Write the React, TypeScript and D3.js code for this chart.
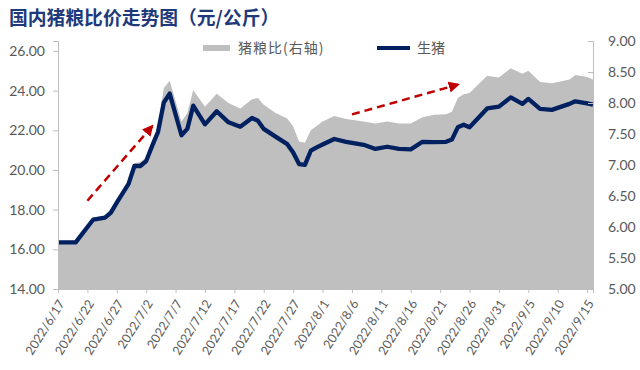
import { useEffect, useRef } from "react";
import * as d3 from "d3";

// 日期（只取图上能读出的拐点）
const dates = [
  "2022/6/17", "2022/6/20", "2022/6/23", "2022/6/25", "2022/6/26", "2022/6/27", "2022/6/29", "2022/6/30",
  "2022/7/1", "2022/7/2", "2022/7/3", "2022/7/4", "2022/7/5", "2022/7/6", "2022/7/8", "2022/7/9",
  "2022/7/10", "2022/7/12", "2022/7/14", "2022/7/16", "2022/7/18", "2022/7/20", "2022/7/21", "2022/7/22",
  "2022/7/24", "2022/7/26", "2022/7/27", "2022/7/28", "2022/7/29", "2022/7/30", "2022/7/31", "2022/8/1",
  "2022/8/3", "2022/8/5", "2022/8/8", "2022/8/10", "2022/8/12", "2022/8/14", "2022/8/16", "2022/8/18",
  "2022/8/20", "2022/8/22", "2022/8/23", "2022/8/24", "2022/8/25", "2022/8/26", "2022/8/29", "2022/8/31",
  "2022/9/2", "2022/9/4", "2022/9/5", "2022/9/7", "2022/9/9", "2022/9/12", "2022/9/13", "2022/9/15",
  "2022/9/16",
];

// 生猪 元/公斤（左轴）
const hogPrice = [
  16.35, 16.35, 17.5, 17.6, 17.85, 18.35, 19.3, 20.2,
  20.2, 20.45, 21.2, 21.9, 23.4, 23.85, 21.75, 22.07,
  23.24, 22.3, 22.96, 22.4, 22.18, 22.62, 22.48, 22.07,
  21.68, 21.3, 20.88, 20.3, 20.26, 20.97, 21.14, 21.28,
  21.56, 21.42, 21.27, 21.06, 21.17, 21.06, 21.04, 21.42,
  21.4, 21.42, 21.53, 22.15, 22.28, 22.15, 23.1, 23.19,
  23.66, 23.33, 23.58, 23.08, 23.03, 23.33, 23.46, 23.36,
  23.29,
];

// 猪粮比（右轴）
const hogGrainRatio = [
  5.78, 5.78, 6.15, 6.18, 6.3, 6.45, 6.74, 7.03,
  7.05, 7.12, 7.4, 7.62, 8.24, 8.36, 7.7, 7.84,
  8.21, 7.94, 8.15, 8.0, 7.91, 8.06, 8.08, 7.97,
  7.84, 7.75, 7.62, 7.38, 7.36, 7.56, 7.63, 7.7,
  7.79, 7.74, 7.7, 7.67, 7.7, 7.67, 7.67, 7.77,
  7.81, 7.82, 7.86, 8.08, 8.14, 8.16, 8.44, 8.41,
  8.56, 8.47, 8.52, 8.34, 8.32, 8.38, 8.45, 8.42,
  8.38,
];

const xTickLabels = [
  "2022/6/17", "2022/6/22", "2022/6/27", "2022/7/2", "2022/7/7", "2022/7/12", "2022/7/17",
  "2022/7/22", "2022/7/27", "2022/8/1", "2022/8/6", "2022/8/11", "2022/8/16", "2022/8/21",
  "2022/8/26", "2022/8/31", "2022/9/5", "2022/9/10", "2022/9/15",
];
const leftTicks = [14, 16, 18, 20, 22, 24, 26];
const rightTicks = [5, 5.5, 6, 6.5, 7, 7.5, 8, 8.5, 9];

// 红色虚线箭头：[起点日期, 起点值, 终点日期, 终点值]（左轴）
const arrowStarts = [["2022/6/22", 18.45], ["2022/8/6", 22.8]];
const arrowEnds = [["2022/7/3", 22.2], ["2022/8/24", 24.3]];

const App = () => {
  const ref = useRef<HTMLDivElement | null>(null);

  function chartRender(svg: any) {
    const width = 640;
    const height = 370;
    const left = 58;
    const right = 593;
    const top = 41;
    const bottom = 289;
    const axisColor = "#bfbfbf";
    const labelColor = "#595959";
    const numFont = "Lato, 'Liberation Sans', sans-serif";
    const cjkFont = "'Noto Sans CJK SC', sans-serif";

    svg.attr("width", width).attr("height", height)
      .style("position", "absolute").style("left", 0).style("top", 0);

    const parse = d3.timeParse("%Y/%m/%d");
    const data = dates.map((d, i) => ({
      date: parse(d) as Date,
      price: hogPrice[i],
      ratio: hogGrainRatio[i],
    }));

    const x = d3.scaleTime()
      .domain([parse("2022/6/17") as Date, parse("2022/9/16") as Date])
      .range([left, right]);
    const yL = d3.scaleLinear().domain([14, 26.5]).range([bottom, top]);
    const yR = d3.scaleLinear().domain([5, 9]).range([bottom, top]);

    // title
    svg.append("text")
      .attr("x", 9).attr("y", 25)
      .attr("font-family", cjkFont).attr("font-weight", 700)
      .attr("font-size", 18.8).attr("fill", "#1f3a7a")
      .text("国内猪粮比价走势图（元/公斤）");

    // area
    const area = d3.area<any>()
      .x((d) => x(d.date))
      .y0(yR(5))
      .y1((d) => yR(d.ratio));
    svg.append("path").datum(data).attr("d", area).attr("fill", "#bfbfbf");

    // line
    const line = d3.line<any>()
      .x((d) => x(d.date))
      .y((d) => yL(d.price));
    svg.append("path").datum(data).attr("d", line)
      .attr("fill", "none").attr("stroke", "#002060")
      .attr("stroke-width", 4.3).attr("stroke-linejoin", "round");

    // arrows
    const defs = svg.append("defs");
    defs.append("marker")
      .attr("id", "arrowhead").attr("viewBox", "0 0 10 10")
      .attr("refX", 8).attr("refY", 5)
      .attr("markerWidth", 4.5).attr("markerHeight", 4.5)
      .attr("markerUnits", "strokeWidth")
      .attr("orient", "auto")
      .append("path").attr("d", "M0,0 L10,5 L0,10 z").attr("fill", "#c00000");
    arrowStarts.forEach((s, i) => {
      const e = arrowEnds[i];
      svg.append("line")
        .attr("x1", x(parse(s[0] as string) as Date)).attr("y1", yL(s[1] as number))
        .attr("x2", x(parse(e[0] as string) as Date)).attr("y2", yL(e[1] as number))
        .attr("stroke", "#c00000").attr("stroke-width", 2.5)
        .attr("stroke-dasharray", "8,5")
        .attr("marker-end", "url(#arrowhead)");
    });

    // left axis
    const gl = svg.append("g").attr("transform", `translate(${left},0)`)
      .call(d3.axisLeft(yL).tickValues(leftTicks).tickSize(5).tickPadding(8)
        .tickFormat((d: any) => d3.format(".2f")(d)));
    // right axis
    const gr = svg.append("g").attr("transform", `translate(${right},0)`)
      .call(d3.axisRight(yR).tickValues(rightTicks).tickSize(-5).tickPadding(15)
        .tickFormat((d: any) => d3.format(".2f")(d)));
    [gl, gr].forEach((g) => {
      g.select(".domain").attr("stroke", axisColor);
      g.selectAll(".tick line").attr("stroke", axisColor);
      g.selectAll("text").attr("fill", labelColor)
        .attr("font-family", numFont).attr("font-size", 14);
    });

    // bottom axis
    const gx = svg.append("g").attr("transform", `translate(0,${bottom})`)
      .call(d3.axisBottom(x)
        .tickValues(xTickLabels.map((t) => parse(t) as Date))
        .tickSize(4)
        .tickFormat(d3.timeFormat("%Y/%-m/%-d") as any));
    gx.select(".domain").attr("stroke", axisColor);
    gx.selectAll(".tick line").attr("stroke", axisColor);
    gx.selectAll("text")
      .attr("fill", labelColor).attr("font-family", numFont).attr("font-size", 12.5)
      .attr("text-anchor", "end")
      .attr("dy", "0.35em").attr("y", 0)
      .attr("transform", "translate(3,12) rotate(-58)");

    // legend
    const lg = svg.append("g");
    lg.append("rect").attr("x", 203).attr("y", 45).attr("width", 27).attr("height", 6)
      .attr("fill", "#bfbfbf");
    lg.append("text").attr("x", 238).attr("y", 53)
      .attr("font-family", cjkFont).attr("font-size", 14).attr("fill", labelColor)
      .attr("letter-spacing", 1)
      .text("猪粮比(右轴)");
    lg.append("line").attr("x1", 377).attr("x2", 410).attr("y1", 48).attr("y2", 48)
      .attr("stroke", "#002060").attr("stroke-width", 4);
    lg.append("text").attr("x", 417).attr("y", 53)
      .attr("font-family", cjkFont).attr("font-size", 14).attr("fill", labelColor)
      .text("生猪");
  }

  useEffect(() => {
    if (ref.current) {
      const svg = d3.select(ref.current).append("svg");
      chartRender(svg);
      return () => {
        svg.remove();
      };
    }
  }, []);

  return <div ref={ref}></div>;
};

export default App;
